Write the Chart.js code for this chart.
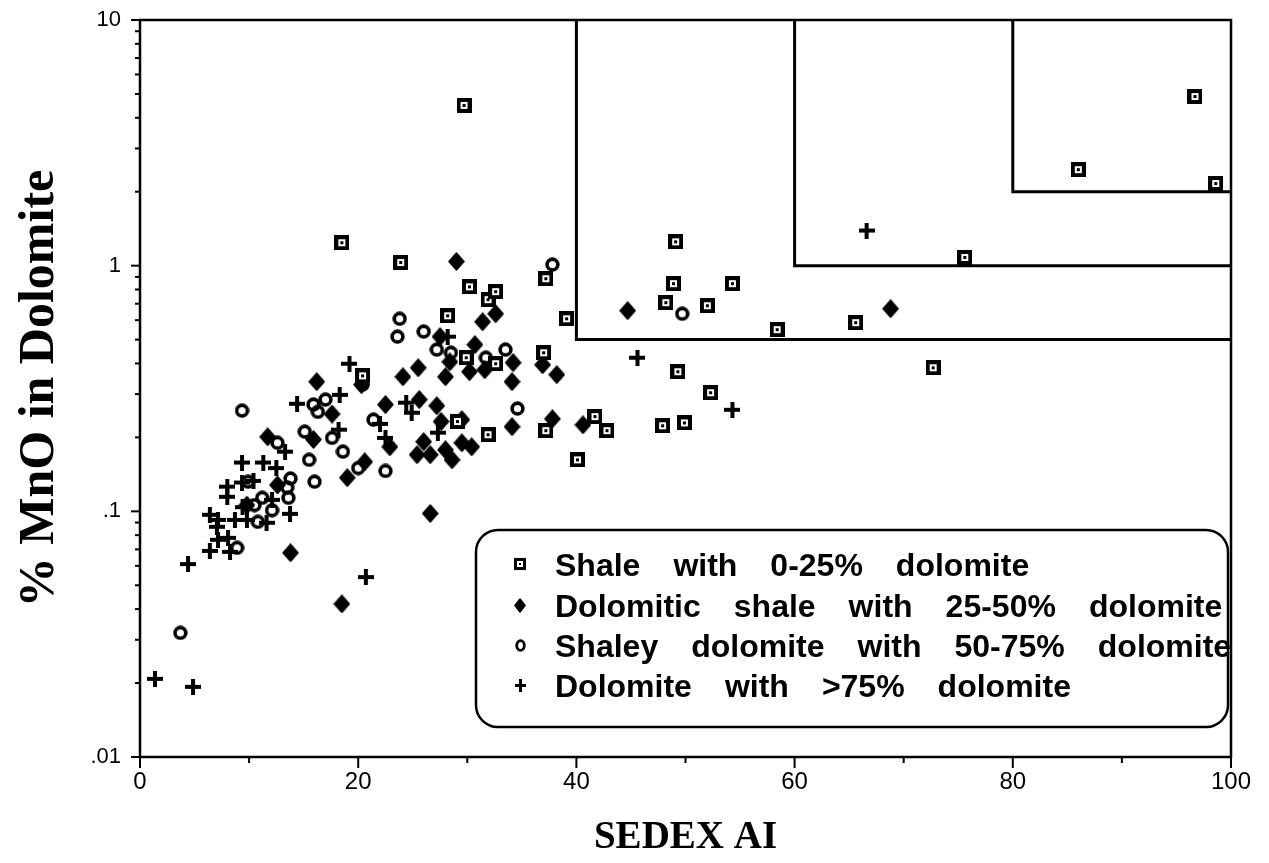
<!DOCTYPE html>
<html><head><meta charset="utf-8">
<script src="https://cdn.jsdelivr.net/npm/chart.js@4.4.1/dist/chart.umd.min.js"></script>
<style>html,body{margin:0;padding:0;background:#fff;}#wrap{width:1269px;height:863px;}</style>
</head><body><div id="wrap"><canvas id="c" width="1269" height="863"></canvas></div>
<script>
// ---- data ----
const seriesLabels = ['Shale with 0-25% dolomite','Dolomitic shale with 25-50% dolomite','Shaley dolomite with 50-75% dolomite','Dolomite with >75% dolomite'];
const shaleX = [29.7,18.5,23.9,30.2,31.9,32.6,37.2,28.2,39.1,20.4,29.9,32.6,37.0,29.1,31.9,37.2,41.7,42.8,40.1,47.9,49.9,52.3,49.3,49.1,48.9,48.2,52.0,54.3,58.4,65.6,75.6,72.7,86.0,96.7,98.6];
const shaleY = [4.49,1.24,1.03,0.82,0.727,0.784,0.885,0.625,0.608,0.356,0.422,0.399,0.442,0.232,0.205,0.213,0.243,0.213,0.162,0.223,0.229,0.304,0.370,1.25,0.845,0.707,0.687,0.845,0.549,0.586,1.08,0.384,2.46,4.88,2.16];
const dolShaleX = [29.0,32.6,31.4,30.7,27.5,28.4,30.2,31.6,34.2,36.9,38.2,34.1,25.5,24.1,28.0,16.2,20.3,25.6,27.2,22.5,17.6,27.6,29.5,34.1,37.8,40.6,26.0,22.9,29.5,30.4,28.0,25.4,26.6,28.6,15.9,20.6,19.0,11.7,9.8,12.6,26.6,13.8,18.5,44.7,68.8];
const dolShaleY = [1.04,0.637,0.591,0.477,0.514,0.406,0.370,0.377,0.403,0.395,0.360,0.337,0.384,0.353,0.353,0.337,0.328,0.285,0.269,0.272,0.249,0.232,0.236,0.221,0.238,0.225,0.192,0.183,0.190,0.183,0.178,0.170,0.170,0.162,0.196,0.159,0.137,0.201,0.106,0.128,0.098,0.0678,0.042,0.656,0.668];
const shaleyDolX = [37.8,49.7,23.8,23.6,26.0,27.2,28.5,31.7,33.5,34.6,20.4,17.0,15.9,16.3,21.4,15.1,17.6,18.6,15.5,20.0,22.5,16.0,9.35,12.6,13.8,13.5,13.6,11.2,9.9,12.1,10.8,8.9,3.7,10.5];
const shaleyDolY = [1.01,0.637,0.608,0.514,0.539,0.455,0.442,0.422,0.455,0.262,0.328,0.285,0.272,0.254,0.236,0.211,0.199,0.175,0.162,0.150,0.146,0.132,0.257,0.190,0.136,0.125,0.1135,0.1135,0.132,0.101,0.0906,0.071,0.032,0.106];
const dolomiteX = [66.6,45.6,54.3,19.2,18.3,14.4,24.4,24.9,28.2,22.0,22.5,27.3,18.2,13.3,9.35,11.3,12.5,8.0,9.35,10.4,8.0,6.4,7.15,8.7,9.8,11.6,13.75,12.1,7.05,7.15,8.07,6.4,8.25,4.4,20.7,1.37,4.86,9.4];
const dolomiteY = [1.39,0.422,0.259,0.399,0.298,0.274,0.277,0.252,0.514,0.227,0.199,0.209,0.215,0.175,0.158,0.158,0.150,0.126,0.131,0.133,0.1146,0.0968,0.0923,0.0923,0.0923,0.0898,0.0977,0.1114,0.0865,0.0766,0.078,0.069,0.0684,0.061,0.054,0.0208,0.0193,0.104];
// field boxes: each runs from (boxX, top) down to boxY, then right to x max
const boxX = [40,60,80];
const boxY = [0.5,1,2];
const xTickLabels = [0,20,40,60,80,100];
const xMinorTicks = [0,10,20,30,40,50,60,70,80,90,100];
const yTickValues = [0.01,0.1,1,10];
const yTickLabels = ['.01','.1','1','10'];
const xTitle = 'SEDEX AI';
const yTitle = '% MnO in Dolomite';

// ---- markers ----
function mk(w,h,draw){const c=document.createElement('canvas');c.width=w;c.height=h;const g=c.getContext('2d');g.fillStyle='#000';g.strokeStyle='#000';draw(g,w,h);return c;}
function squareMarker(s){return mk(s,s,g=>{g.fillRect(0,0,s,s);g.fillStyle='#fff';const a=Math.round(s*0.27),b=s-2*a;g.fillRect(a,a,b,b);g.fillStyle='#000';const c=Math.round(s*0.4),d=s-2*c;g.fillRect(c,c,d,d);});}
function diamondMarker(w,h){return mk(w,h,g=>{g.lineJoin='round';g.lineWidth=1.5;g.beginPath();g.moveTo(w/2,1);g.lineTo(w-1,h/2);g.lineTo(w/2,h-1);g.lineTo(1,h/2);g.closePath();g.fill();g.stroke();});}
function circleMarker(w,h,lw){return mk(w,h,g=>{g.lineWidth=lw;g.beginPath();g.ellipse(w/2,h/2,(w-lw)/2-0.3,(h-lw)/2-0.3,0,0,Math.PI*2);g.stroke();});}
function plusMarker(w,h,t){return mk(w,h,g=>{g.fillRect(0,(h-t)/2,w,t);g.fillRect((w-t)/2,0,t,h);});}

const markers = [squareMarker(15), diamondMarker(17,19), circleMarker(15,15,3.6), plusMarker(16,16,4)];
const legendMarkers = [squareMarker(12), diamondMarker(12,15), circleMarker(11,13,2.8), plusMarker(11,13,3)];

function pts(xs,ys){return xs.map((x,i)=>({x:x,y:ys[i]}));}
const seriesData = [pts(shaleX,shaleY),pts(dolShaleX,dolShaleY),pts(shaleyDolX,shaleyDolY),pts(dolomiteX,dolomiteY)];

const datasets = seriesData.map((d,i)=>({label:seriesLabels[i],data:d,pointStyle:markers[i],pointRadius:8,showLine:false}));
boxX.forEach((bx,i)=>{datasets.push({label:'field'+i,data:[{x:bx,y:10},{x:bx,y:boxY[i]},{x:100,y:boxY[i]}],showLine:true,borderColor:'#000',borderWidth:3,pointRadius:0,fill:false,tension:0,clip:4});});

const decor = {
  id:'decor',
  afterDraw(chart){
    const {ctx,chartArea:a,scales:{x,y}} = chart;
    ctx.save();
    ctx.strokeStyle='#000';ctx.lineWidth=2.5;
    ctx.strokeRect(a.left,a.top,a.right-a.left,a.bottom-a.top);
    ctx.lineWidth=2;
    // x ticks
    xMinorTicks.forEach(v=>{const px=x.getPixelForValue(v);const len=(v%20===0)?11:6;ctx.beginPath();ctx.moveTo(px,a.bottom);ctx.lineTo(px,a.bottom+len);ctx.stroke();});
    // y ticks (log decades with minor)
    for(let k=-2;k<=1;k++){for(let m=1;m<=9;m++){const v=m*Math.pow(10,k);if(v>10.0001)continue;const py=y.getPixelForValue(v);const len=(m===1)?9:5;ctx.beginPath();ctx.moveTo(a.left-len,py);ctx.lineTo(a.left,py);ctx.stroke();}}
    // legend
    const L=476,T=530,W=752,H=197,R=22;
    ctx.lineWidth=2.5;
    ctx.beginPath();ctx.roundRect(L,T,W,H,R);ctx.stroke();
    ctx.fillStyle='#000';
    ctx.font='bold 32px "Liberation Sans", Arial, sans-serif';
    ctx.textBaseline='alphabetic';ctx.textAlign='left';
    const base=[576,617,657,697];
    seriesLabels.forEach((lab,i)=>{
      const m=legendMarkers[i];
      ctx.drawImage(m,Math.round(520-m.width/2),Math.round(base[i]-12-m.height/2));
      let tx=555;
      lab.split(' ').forEach(w=>{ctx.fillText(w,tx,base[i]);tx+=ctx.measureText(w).width+33;});
    });
    ctx.restore();
  }
};

new Chart(document.getElementById('c'),{
  type:'scatter',
  data:{datasets:datasets},
  options:{
    responsive:false,animation:false,devicePixelRatio:1,
    layout:{padding:{top:20,right:38,left:0,bottom:0}},
    plugins:{legend:{display:false},tooltip:{enabled:false}},
    scales:{
      x:{type:'linear',position:'bottom',min:0,max:100,
        afterFit(s){s.height=106;s.paddingLeft=0;s.paddingRight=0;},
        afterBuildTicks(s){s.ticks=xTickLabels.map(v=>({value:v}));},
        grid:{display:false,drawTicks:false},border:{display:false},
        ticks:{color:'#000',padding:11,font:{family:'"Liberation Sans", Arial, sans-serif',size:24},callback:(v)=>String(v)},
        title:{display:true,text:xTitle,color:'#000',font:{family:'"Liberation Serif", "Times New Roman", serif',size:39,weight:'bold'},padding:{top:0,bottom:2}}
      },
      y:{type:'logarithmic',position:'left',min:0.01,max:10,
        afterFit(s){s.width=140;s.paddingTop=0;s.paddingBottom=0;},
        afterBuildTicks(s){s.ticks=yTickValues.map(v=>({value:v}));},
        grid:{display:false,drawTicks:false},border:{display:false},
        ticks:{color:'#000',padding:19,font:{family:'"Liberation Sans", Arial, sans-serif',size:22},callback:(v)=>{const i=yTickValues.findIndex(t=>Math.abs(t-v)/t<1e-6);return i>=0?yTickLabels[i]:'';}},
        title:{display:true,text:yTitle,color:'#000',font:{family:'"Liberation Serif", "Times New Roman", serif',size:50,weight:'bold'},padding:{top:10,bottom:0}}
      }
    }
  },
  plugins:[decor]
});
</script></body></html>
